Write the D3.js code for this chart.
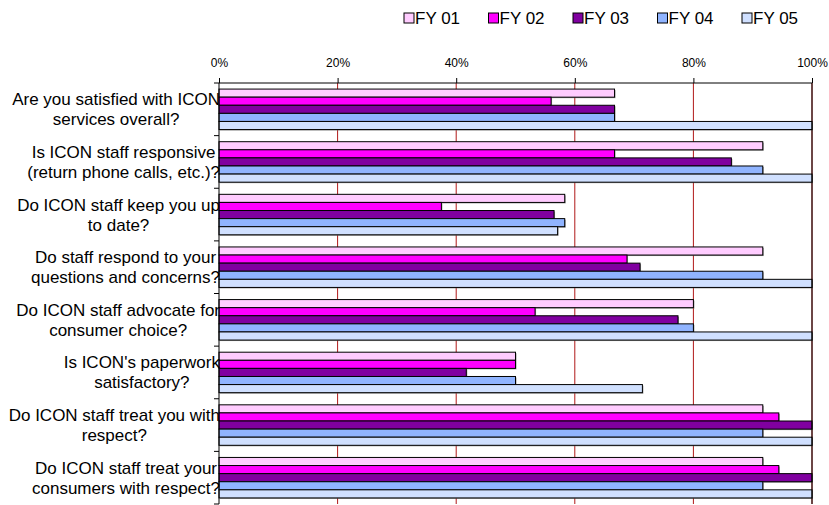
<!DOCTYPE html>
<html>
<head>
<meta charset="utf-8">
<script src="https://cdn.jsdelivr.net/npm/d3@7"></script>
<style>
  body { margin: 0; background: #fff; }
  svg { display: block; font-family: "Liberation Sans", Arial, sans-serif; }
</style>
</head>
<body>
<svg id="chart" width="829" height="505"></svg>
<script>
// questions, each split in the two lines shown on the chart
var questions = [
	[ "Are you satisfied with ICON", "services overall?" ],
	[ "Is ICON staff responsive", "(return phone calls, etc.)?" ],
	[ "Do ICON staff keep you up", "to date?" ],
	[ "Do staff respond to your", "questions and concerns?" ],
	[ "Do ICON staff advocate for", "consumer choice?" ],
	[ "Is ICON's paperwork", "satisfactory?" ],
	[ "Do ICON staff treat you with", "respect?" ],
	[ "Do ICON staff treat your", "consumers with respect?" ]
];

var years = [ "FY 01", "FY 02", "FY 03", "FY 04", "FY 05" ];
var colors = [ "#FFCCFF", "#FF00FF", "#8000A0", "#90B4FF", "#D0E0FF" ];

// percent positive, one array per year, in question order
var fy01 = [ 66.7, 91.7, 58.3, 91.7, 80.0, 50.0, 91.7, 91.7 ];
var fy02 = [ 56.0, 66.7, 37.5, 68.8, 53.3, 50.0, 94.4, 94.4 ];
var fy03 = [ 66.7, 86.4, 56.5, 71.0, 77.4, 41.7, 100, 100 ];
var fy04 = [ 66.7, 91.7, 58.3, 91.7, 80.0, 50.0, 91.7, 91.7 ];
var fy05 = [ 100, 100, 57.1, 100, 100, 71.4, 100, 100 ];

var x_ticks = [ 0, 20, 40, 60, 80, 100 ];

var series = [ fy01, fy02, fy03, fy04, fy05 ];

var margin = { top : 83, right : 17, bottom : 1, left : 219 };
var svg = d3.select( "#chart" );
var width  = +svg.attr( "width" )  - margin.left - margin.right;
var height = +svg.attr( "height" ) - margin.top  - margin.bottom;

var g = svg.append( "g" )
	.attr( "transform", "translate(" + margin.left + "," + margin.top + ")" );

var x = d3.scaleLinear().domain([ 0, 100 ]).range([ 0, width ]);
var y = d3.scaleBand().domain( d3.range( questions.length ) ).range([ 0, height ]);
var y_inner = d3.scaleBand().domain( d3.range( years.length ) )
	.range([ 0, y.bandwidth() ]).paddingOuter( 0.75 );

// Gridlines
g.append( "g" )
	.selectAll( "line" )
	.data( x_ticks.slice( 1 ) )
	.enter()
	.append( "line" )
		.attr( "x1", function(d){ return x( d ); } )
		.attr( "x2", function(d){ return x( d ); } )
		.attr( "y1", 0 )
		.attr( "y2", height )
		.attr( "stroke", "#B01818" )
		.attr( "stroke-width", 1 );

// Bars, with a soft grey shadow under each
var rows = [];
series.forEach(function( vals, s ){
	vals.forEach(function( v, q ){ rows.push({ q : q, s : s, v : v }); });
});

g.append( "g" )
	.selectAll( "rect" )
	.data( rows )
	.enter()
	.append( "rect" )
		.attr( "x", 1 )
		.attr( "y", function(d){ return y( d.q ) + y_inner( d.s ) + 1; } )
		.attr( "width", function(d){ return x( d.v ); } )
		.attr( "height", y_inner.bandwidth() )
		.attr( "fill", "#707070" )
		.attr( "opacity", 0.7 );

g.append( "g" )
	.selectAll( "rect" )
	.data( rows )
	.enter()
	.append( "rect" )
		.attr( "x", 0 )
		.attr( "y", function(d){ return y( d.q ) + y_inner( d.s ); } )
		.attr( "width", function(d){ return x( d.v ); } )
		.attr( "height", y_inner.bandwidth() )
		.attr( "fill", function(d){ return colors[ d.s ]; } )
		.attr( "stroke", "#000" )
		.attr( "stroke-width", 1 );

// Plot border: top, right and left
g.append( "path" )
	.attr( "d", "M0," + height + "V0H" + width + "V" + height )
	.attr( "fill", "none" )
	.attr( "stroke", "#000" )
	.attr( "stroke-width", 1 );

// Top axis
var x_axis = d3.axisTop( x ).tickValues( x_ticks ).tickSize( 5 ).tickPadding( 11 )
	.tickFormat(function(d){ return d + "%"; });

var xa = g.append( "g" ).call( x_axis );
xa.select( ".domain" ).remove();
xa.selectAll( "text" )
	.attr( "font-size", 12 )
	.attr( "font-family", "Liberation Sans, Arial, sans-serif" )
	.attr( "fill", "#000" );

// Category ticks on the left
g.append( "g" )
	.selectAll( "line" )
	.data( d3.range( questions.length + 1 ) )
	.enter()
	.append( "line" )
		.attr( "x1", -5 )
		.attr( "x2", 0 )
		.attr( "y1", function(d){ return d * y.step(); } )
		.attr( "y2", function(d){ return d * y.step(); } )
		.attr( "stroke", "#000" );

// Category labels: lines centred on each other, block right-aligned to the axis
var labels = svg.append( "g" )
	.attr( "font-size", 17 )
	.attr( "fill", "#000" );

questions.forEach(function( lines, q ){
	var grp = labels.append( "text" ).attr( "text-anchor", "middle" );
	var spans = lines.map(function( line, i ){
		return grp.append( "tspan" )
			.attr( "y", margin.top + y( q ) + y.bandwidth() / 2 + ( i - 0.5 ) * 20 + 6 )
			.text( line );
	});
	var w = d3.max( spans, function( s ){ return s.node().getComputedTextLength(); } );
	spans.forEach(function( s ){ s.attr( "x", margin.left + 1 - w / 2 ); });
});

// Legend
var legend = svg.append( "g" )
	.attr( "transform", "translate(404,18)" );

var items = legend.selectAll( "g" )
	.data( years )
	.enter()
	.append( "g" )
		.attr( "transform", function(d, i){ return "translate(" + ( i * 84.5 ) + ",0)"; } );

items.append( "rect" )
	.attr( "x", 0 )
	.attr( "y", -5 )
	.attr( "width", 10 )
	.attr( "height", 10 )
	.attr( "fill", function(d, i){ return colors[ i ]; } )
	.attr( "stroke", "#000" );

items.append( "text" )
	.attr( "x", 11 )
	.attr( "y", 6 )
	.attr( "font-size", 17 )
	.text(function(d){ return d; });
</script>
</body>
</html>
